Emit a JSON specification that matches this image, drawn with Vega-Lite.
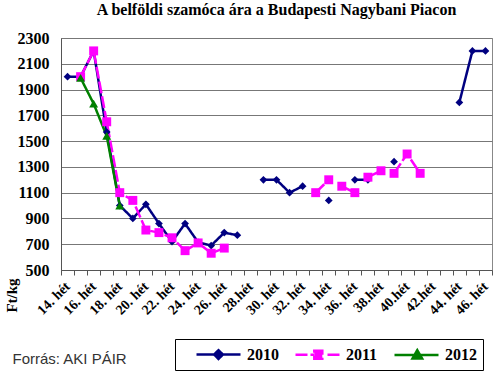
{
  "$schema": "https://vega.github.io/schema/vega-lite/v6.json",
  "width": 431,
  "height": 232,
  "autosize": {"type": "none"},
  "padding": {"left": 61, "top": 38, "right": 8, "bottom": 104},
  "background": "white",
  "title": {
    "text": "A belföldi szamóca ára a Budapesti Nagybani Piacon",
    "font": "Liberation Serif",
    "fontSize": 16,
    "fontWeight": "bold",
    "color": "black",
    "anchor": "middle",
    "offset": 12
  },
  "config": {
    "view": {"stroke": "#888888", "strokeWidth": 1},
    "axis": {"labelFont": "Liberation Serif", "labelFontWeight": "bold", "labelColor": "black", "titleFont": "Liberation Serif", "titleFontWeight": "bold", "titleColor": "black"}
  },
  "data": {
    "values": [
      {"week": 14, "year": "2010", "seg": "a", "price": 2000},
      {"week": 15, "year": "2010", "seg": "a", "price": 2000},
      {"week": 16, "year": "2010", "seg": "a", "price": 2200},
      {"week": 17, "year": "2010", "seg": "a", "price": 1570},
      {"week": 18, "year": "2010", "seg": "a", "price": 1000},
      {"week": 19, "year": "2010", "seg": "a", "price": 900},
      {"week": 20, "year": "2010", "seg": "a", "price": 1010},
      {"week": 21, "year": "2010", "seg": "a", "price": 860},
      {"week": 22, "year": "2010", "seg": "a", "price": 720},
      {"week": 23, "year": "2010", "seg": "a", "price": 860},
      {"week": 24, "year": "2010", "seg": "a", "price": 715},
      {"week": 25, "year": "2010", "seg": "a", "price": 690},
      {"week": 26, "year": "2010", "seg": "a", "price": 790},
      {"week": 27, "year": "2010", "seg": "a", "price": 770},
      {"week": 29, "year": "2010", "seg": "b", "price": 1200},
      {"week": 30, "year": "2010", "seg": "b", "price": 1200},
      {"week": 31, "year": "2010", "seg": "b", "price": 1100},
      {"week": 32, "year": "2010", "seg": "b", "price": 1150},
      {"week": 34, "year": "2010", "seg": "c", "price": 1040},
      {"week": 36, "year": "2010", "seg": "d", "price": 1200},
      {"week": 37, "year": "2010", "seg": "d", "price": 1200},
      {"week": 39, "year": "2010", "seg": "e", "price": 1340},
      {"week": 44, "year": "2010", "seg": "f", "price": 1800},
      {"week": 45, "year": "2010", "seg": "f", "price": 2200},
      {"week": 46, "year": "2010", "seg": "f", "price": 2200},
      {"week": 15, "year": "2011", "seg": "a", "price": 2000},
      {"week": 16, "year": "2011", "seg": "a", "price": 2200},
      {"week": 17, "year": "2011", "seg": "a", "price": 1650},
      {"week": 18, "year": "2011", "seg": "a", "price": 1100},
      {"week": 19, "year": "2011", "seg": "a", "price": 1040},
      {"week": 20, "year": "2011", "seg": "a", "price": 810},
      {"week": 21, "year": "2011", "seg": "a", "price": 790},
      {"week": 22, "year": "2011", "seg": "a", "price": 750},
      {"week": 23, "year": "2011", "seg": "a", "price": 650},
      {"week": 24, "year": "2011", "seg": "a", "price": 710},
      {"week": 25, "year": "2011", "seg": "a", "price": 630},
      {"week": 26, "year": "2011", "seg": "a", "price": 670},
      {"week": 33, "year": "2011", "seg": "b", "price": 1100},
      {"week": 34, "year": "2011", "seg": "b", "price": 1200},
      {"week": 35, "year": "2011", "seg": "c", "price": 1150},
      {"week": 36, "year": "2011", "seg": "c", "price": 1100},
      {"week": 37, "year": "2011", "seg": "d", "price": 1220},
      {"week": 38, "year": "2011", "seg": "d", "price": 1270},
      {"week": 39, "year": "2011", "seg": "e", "price": 1250},
      {"week": 40, "year": "2011", "seg": "e", "price": 1400},
      {"week": 41, "year": "2011", "seg": "e", "price": 1250},
      {"week": 15, "year": "2012", "seg": "a", "price": 1990},
      {"week": 16, "year": "2012", "seg": "a", "price": 1790},
      {"week": 17, "year": "2012", "seg": "a", "price": 1540},
      {"week": 18, "year": "2012", "seg": "a", "price": 1000}
    ]
  },
  "encoding": {
    "x": {
      "field": "week",
      "type": "ordinal",
      "scale": {"domain": [14,15,16,17,18,19,20,21,22,23,24,25,26,27,28,29,30,31,32,33,34,35,36,37,38,39,40,41,42,43,44,45,46], "paddingInner": 0, "paddingOuter": 0},
      "axis": {
        "title": "Forrás: AKI PÁIR",
        "titleFont": "Liberation Sans",
        "titleFontWeight": "normal",
        "titleFontSize": 15,
        "titleColor": "#333333",
        "titleX": -49,
        "titleY": 93,
        "titleAlign": "left",
        "titleBaseline": "alphabetic",
        "titleAnchor": "start",
        "labelAngle": -45,
        "labelAlign": "right",
        "labelBaseline": "middle",
        "labelFontSize": 14,
        "labelPadding": 9,
        "labelOverlap": false,
        "labelExpr": "(datum.value == null || datum.value % 2) ? '' : datum.value + (indexof([28,38,40,42], datum.value) >= 0 ? '.hét' : '. hét')",
        "tickBand": "extent",
        "ticks": true,
        "tickSize": 5,
        "tickColor": "#555555",
        "domainColor": "#555555",
        "grid": false
      }
    },
    "y": {
      "field": "price",
      "type": "quantitative",
      "scale": {"domain": [500, 2300], "nice": false, "zero": false},
      "axis": {
        "values": [500,700,900,1100,1300,1500,1700,1900,2100,2300],
        "format": "d",
        "title": "Ft/kg",
        "titleFontSize": 15,
        "titleAngle": 270,
        "titleX": -50,
        "titleY": 257,
        "titleAlign": "center",
        "titleBaseline": "middle",
        "labelFontSize": 16,
        "labelPadding": 12,
        "ticks": false,
        "domainColor": "#555555",
        "grid": true,
        "gridColor": "#777777",
        "gridWidth": 1
      }
    },
    "color": {
      "field": "year",
      "type": "nominal",
      "scale": {"domain": ["2010","2011","2012"], "range": ["#000080","#FF00FF","#008000"]},
      "legend": {
        "title": null,
        "orient": "none",
        "legendX": 114,
        "legendY": 301,
        "direction": "horizontal",
        "columns": 3,
        "columnPadding": 1,
        "padding": 6,
        "strokeColor": "black",
        "fillColor": "white",
        "labelFont": "Liberation Serif",
        "labelFontWeight": "bold",
        "labelFontSize": 16,
        "labelColor": "black",
        "labelOffset": 47,
        "symbolSize": 256,
        "symbolStrokeWidth": 2.5,
        "encode": {
          "symbols": {
            "update": {
              "shape": {"signal": "datum.value === '2010' ? 'M0.75,0L6.25,0M3.5,-0.55L4.05,0L3.5,0.55L2.95,0Z' : datum.value === '2011' ? 'M0.75,0L3.1,0M4.75,0L6.25,0M3.1,-0.5L4.1,-0.5L4.1,0.5L3.1,0.5Z' : 'M0.75,0L6.25,0M3.6,-0.6L4.2,0.45L3.0,0.45Z'"},
              "fill": {"signal": "scale('color', datum.value)"},
              "stroke": {"signal": "scale('color', datum.value)"},
              "strokeWidth": {"value": 2.5},
              "strokeDash": {"value": [1, 0]},
              "opacity": {"value": 1}
            }
          }
        }
      }
    }
  },
  "layer": [
    {
      "mark": {"type": "line", "strokeWidth": 2.5},
      "encoding": {
        "detail": {"field": "seg", "type": "nominal"},
        "strokeDash": {
          "field": "year",
          "type": "nominal",
          "scale": {"domain": ["2010","2011","2012"], "range": [[1,0],[12,3],[1,0]]},
          "legend": null
        }
      }
    },
    {
      "transform": [{"filter": "datum.year === '2010'"}],
      "mark": {"type": "point", "filled": true, "opacity": 1, "size": 60, "shape": "diamond"}
    },
    {
      "transform": [{"filter": "datum.year === '2011'"}],
      "mark": {"type": "point", "filled": true, "opacity": 1, "size": 80, "shape": "square"}
    },
    {
      "transform": [{"filter": "datum.year === '2012'"}],
      "mark": {"type": "point", "filled": true, "opacity": 1, "size": 80, "shape": "triangle-up"}
    }
  ]
}
